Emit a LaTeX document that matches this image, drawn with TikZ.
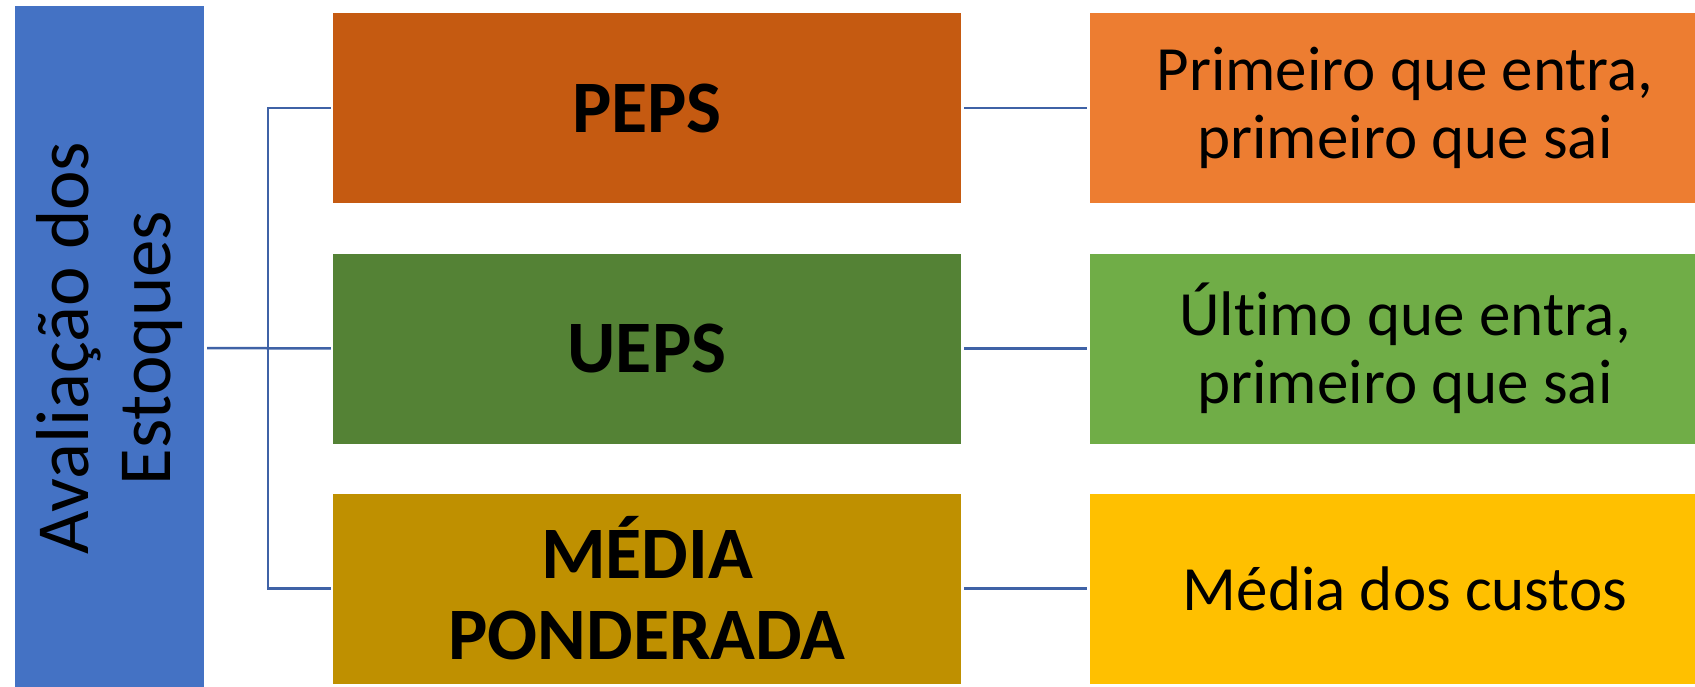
\documentclass[tikz,border=0pt]{standalone}
\usepackage{fontspec}
\setmainfont{Carlito}[Ligatures=NoCommon]
\definecolor{cblue}{HTML}{4472C4}
\definecolor{cline}{HTML}{3F62A6}
\definecolor{cpeps}{HTML}{C55A11}
\definecolor{cpepsR}{HTML}{ED7D31}
\definecolor{cueps}{HTML}{548235}
\definecolor{cuepsR}{HTML}{70AD47}
\definecolor{cmed}{HTML}{BF9000}
\definecolor{cmedR}{HTML}{FFC000}
\tikzset{
  midbox/.style={rectangle, inner sep=0pt, minimum width=628pt, minimum height=190pt,
    align=center, font=\fontsize{74pt}{81pt}\selectfont\bfseries},
  rbox/.style={rectangle, inner sep=0pt, minimum width=630pt, minimum height=190pt,
    align=center, font=\fontsize{63pt}{68pt}\selectfont},
  conn/.style={draw=cline, line width=2.5pt}
}
\begin{document}
\begin{tikzpicture}[x=1pt,y=-1pt]
\useasboundingbox (0,0) rectangle (1695,686);
\node[rectangle, inner sep=0pt, minimum width=684pt, minimum height=189pt, fill=cblue,
  rotate=90, align=center, font=\fontsize{75pt}{82pt}\selectfont] (eval) at (109.5,348)
  {Avaliação dos\\Estoques};
\node[midbox, fill=cpeps] (peps) at (647,108) {PEPS};
\node[midbox, fill=cueps] (ueps) at (647,348.5) {UEPS};
\node[midbox, fill=cmed] (media) at (647,588.5) {MÉDIA\\PONDERADA};
\node[rbox, fill=cpepsR] (r1) at (1405,108) {Primeiro que entra,\\primeiro que sai};
\node[rbox, fill=cuepsR] (r2) at (1405,348.5) {Último que entra,\\primeiro que sai};
\node[rbox, fill=cmedR] (r3) at (1405,588.5) {Média dos custos};
\coordinate (jx) at (268,348);
\draw[conn, shorten <=3pt, shorten >=2pt] (eval.south) -- (ueps.west);
\draw[conn] ([xshift=-2pt]peps.west) -- (peps.west -| jx) -- (media.west -| jx) -- ([xshift=-2pt]media.west);
\draw[conn, shorten <=3pt, shorten >=3pt] (peps.east) -- (r1.west);
\draw[conn, shorten <=3pt, shorten >=3pt] (ueps.east) -- (r2.west);
\draw[conn, shorten <=3pt, shorten >=3pt] (media.east) -- (r3.west);
\end{tikzpicture}
\end{document}
